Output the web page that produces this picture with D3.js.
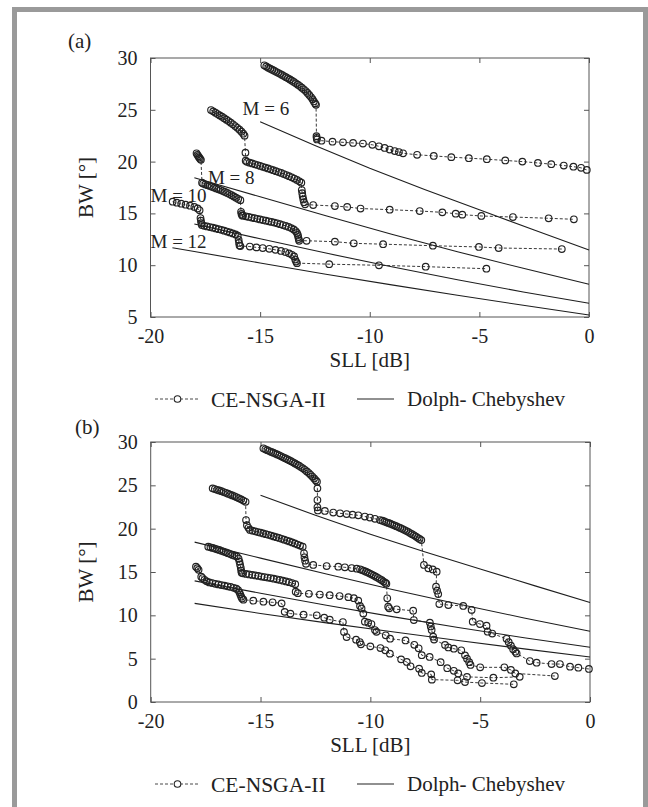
<!DOCTYPE html>
<html>
<head>
<meta charset="utf-8">
<script src="https://cdn.jsdelivr.net/npm/d3@7/dist/d3.min.js"></script>
<style>
  body { margin: 0; background: #fff; }
  svg text { font-family: "Liberation Serif", "Times New Roman", serif; fill: #222; }
</style>
</head>
<body>
<div id="chart"></div>
<script>
// ---- data ----
const xTicks = [-20, -15, -10, -5, 0];
const yTicksA = [5, 10, 15, 20, 25, 30];
const yTicksB = [0, 5, 10, 15, 20, 25, 30];
const mLabels = ['M = 6', 'M = 8', 'M = 10', 'M = 12'];
const mLabelAt = [[-15.8, 25.1], [-17.38, 18.5], [-20, 16.7], [-20, 12.35]];
const legendNames = ['CE-NSGA-II', 'Dolph- Chebyshev'];

// Dolph-Chebyshev curves [SLL, BW]
const dcM6 = [[-15, 23.85], [-12.5, 21.55], [-10, 19.35], [-7.5, 17.3], [-5, 15.35], [-2.5, 13.4], [0, 11.47]];
const dcM8 = [[-18, 18.45], [-15, 16.6], [-12, 14.77], [-9, 12.98], [-6, 11.3], [-3, 9.7], [0, 8.16]];
const dcM10 = [[-18, 13.98], [-15, 12.55], [-12, 11.17], [-9, 9.85], [-6, 8.6], [-3, 7.42], [0, 6.32]];
const dcM12 = [[-19, 11.69], [-18, 11.32], [-15, 10.22], [-12, 9.13], [-9, 8.1], [-6, 7.1], [-3, 6.13], [0, 5.19]];
const dcM12b = [[-18, 11.38], [-15, 10.22], [-12, 9.13], [-9, 8.1], [-6, 7.1], [-3, 6.13], [0, 5.19]];

// CE-NSGA-II fronts, panel (a)
const ceM6a = [[-14.81,29.30],[-14.72,29.18],[-14.63,29.07],[-14.54,28.97],[-14.45,28.87],[-14.36,28.77],[-14.27,28.67],[-14.18,28.57],[-14.09,28.47],[-14.00,28.37],[-13.91,28.26],[-13.82,28.15],[-13.73,28.04],[-13.64,27.93],[-13.55,27.81],[-13.46,27.69],[-13.37,27.56],[-13.28,27.43],[-13.19,27.29],[-13.10,27.14],[-13.01,26.98],[-12.92,26.81],[-12.84,26.63],[-12.76,26.44],[-12.68,26.23],[-12.61,26.02],[-12.55,25.81],[-12.49,25.62],[-12.45,25.48],
  [-12.43,22.45],[-12.42,22.28],[-12.41,22.14],
  [-12.20,22.02],[-11.70,21.92],[-11.22,21.86],[-10.76,21.80],[-10.31,21.74],[-9.88,21.62],[-9.58,21.48],[-9.32,21.32],[-9.09,21.16],[-8.86,21.02],[-8.67,20.92],[-8.48,20.80],
  [-7.84,20.66],[-7.08,20.55],[-6.28,20.43],[-5.48,20.33],[-4.66,20.23],[-3.82,20.11],[-3.04,20.00],[-2.33,19.87],[-1.72,19.75],[-1.15,19.62],[-0.71,19.51],[-0.36,19.40],[-0.10,19.20]];
const ceM8a = [[-17.24,24.98],[-17.14,24.85],[-17.04,24.72],[-16.94,24.59],[-16.84,24.46],[-16.74,24.33],[-16.64,24.19],[-16.54,24.05],[-16.44,23.91],[-16.34,23.76],[-16.24,23.60],[-16.14,23.43],[-16.04,23.26],[-15.94,23.08],[-15.85,22.89],[-15.77,22.69],[-15.71,22.50],
  [-15.67,20.86],
  [-15.66,20.09],[-15.60,19.98],[-15.48,19.90],[-15.36,19.82],[-15.24,19.74],[-15.12,19.66],[-15.00,19.58],[-14.88,19.50],[-14.76,19.42],[-14.64,19.34],[-14.52,19.26],[-14.40,19.17],[-14.28,19.08],[-14.16,18.99],[-14.04,18.90],[-13.92,18.80],[-13.80,18.70],[-13.68,18.59],[-13.56,18.48],[-13.44,18.36],[-13.32,18.23],[-13.21,18.10],[-13.12,17.96],
  [-13.10,17.25],[-13.08,16.95],[-13.06,16.65],[-13.03,16.35],[-13.00,16.08],[-12.95,15.88],
  [-12.58,15.81],[-11.59,15.71],[-11.03,15.62],[-10.42,15.47],[-9.09,15.36],[-7.72,15.23],[-6.69,15.10],[-6.08,14.97],[-5.78,14.88],[-4.91,14.75],[-3.47,14.65],[-1.84,14.53],[-0.69,14.43]];
const ceM10a = [[-17.90,20.80],[-17.86,20.65],[-17.82,20.52],[-17.78,20.40],[-17.74,20.28],[-17.70,20.17],
  [-17.65,17.96],[-17.60,17.88],[-17.50,17.80],[-17.40,17.72],[-17.30,17.65],[-17.20,17.57],[-17.10,17.49],[-17.00,17.41],[-16.90,17.33],[-16.80,17.25],[-16.70,17.16],[-16.60,17.07],[-16.50,16.97],[-16.40,16.87],[-16.30,16.76],[-16.20,16.64],[-16.10,16.52],[-16.00,16.40],[-15.90,16.28],
  [-15.87,15.15],[-15.85,14.95],[-15.82,14.80],
  [-15.78,14.78],[-15.65,14.72],[-15.52,14.66],[-15.39,14.60],[-15.26,14.54],[-15.13,14.48],[-15.00,14.42],[-14.87,14.36],[-14.74,14.30],[-14.61,14.24],[-14.48,14.18],[-14.35,14.11],[-14.22,14.04],[-14.09,13.96],[-13.96,13.88],[-13.83,13.79],[-13.70,13.69],[-13.58,13.58],[-13.47,13.45],[-13.38,13.30],[-13.32,13.12],[-13.28,12.92],[-13.26,12.72],[-13.24,12.52],[-13.22,12.36],
  [-12.88,12.36],[-11.59,12.27],[-10.73,12.11],[-9.39,12.03],[-7.12,11.88],[-5.02,11.76],[-4.12,11.66],[-1.24,11.56]];
const ceM12a = [[-18.99,16.13],[-18.80,16.03],[-18.60,15.94],[-18.40,15.84],[-18.20,15.74],[-18.00,15.62],[-17.85,15.48],[-17.76,15.30],
  [-17.72,14.55],[-17.70,14.30],[-17.68,14.05],
  [-17.66,13.88],[-17.55,13.80],[-17.42,13.74],[-17.29,13.68],[-17.16,13.62],[-17.03,13.55],[-16.90,13.48],[-16.77,13.41],[-16.64,13.33],[-16.51,13.25],[-16.38,13.16],[-16.25,13.07],[-16.12,12.97],[-16.02,12.85],
  [-15.98,12.45],[-15.96,12.15],[-15.94,11.90],
  [-15.90,11.85],[-15.47,11.80],[-15.17,11.72],[-14.88,11.66],[-14.58,11.58],[-14.30,11.48],[-14.05,11.38],[-13.85,11.27],[-13.68,11.14],[-13.55,11.00],[-13.45,10.85],
  [-13.40,10.55],[-13.36,10.35],[-13.32,10.20],
  [-11.85,10.10],[-9.58,9.99],[-7.45,9.86],[-4.68,9.66]];

// CE-NSGA-II fronts, panel (b)
const ceM6b = [[-14.87,29.27],[-14.78,29.16],[-14.69,29.06],[-14.60,28.96],[-14.51,28.86],[-14.42,28.76],[-14.33,28.66],[-14.24,28.56],[-14.15,28.46],[-14.06,28.35],[-13.97,28.24],[-13.88,28.13],[-13.79,28.02],[-13.70,27.90],[-13.61,27.78],[-13.52,27.66],[-13.43,27.53],[-13.34,27.40],[-13.25,27.26],[-13.16,27.11],[-13.07,26.96],[-12.98,26.79],[-12.89,26.61],[-12.80,26.42],[-12.72,26.22],[-12.64,26.01],[-12.56,25.80],[-12.49,25.60],[-12.43,25.42],
  [-12.41,24.65],[-12.41,23.30],[-12.41,22.46],[-12.39,22.10],
  [-12.07,22.04],[-11.69,21.86],[-11.38,21.77],[-11.08,21.69],[-10.81,21.61],[-10.55,21.54],[-10.25,21.40],[-10.02,21.28],[-9.79,21.14],[-9.56,21.00],
  [-9.45,20.92],[-9.36,20.83],[-9.27,20.74],[-9.18,20.66],[-9.09,20.57],[-9.00,20.48],[-8.91,20.39],[-8.82,20.29],[-8.73,20.19],[-8.64,20.09],[-8.55,19.98],[-8.46,19.87],[-8.37,19.75],[-8.28,19.63],[-8.19,19.50],[-8.10,19.37],[-8.01,19.23],[-7.92,19.09],[-7.84,18.95],[-7.76,18.81],[-7.68,18.68],
  [-7.56,15.81],[-7.36,15.42],[-7.16,15.30],[-6.98,15.04],[-7.01,13.30],[-6.96,12.85],[-6.91,12.46],
  [-6.86,11.30],[-6.45,11.19],[-5.77,11.08],[-5.39,10.62],[-5.34,9.27],[-5.01,9.00],[-4.71,8.80],[-4.66,8.11],[-4.45,7.90],[-3.80,7.29],[-3.70,6.90],[-3.60,6.50],[-3.50,6.10],[-3.40,5.80],[-3.34,5.60],
  [-2.74,4.73],[-2.43,4.54],[-1.75,4.38],[-1.37,4.38],[-0.91,4.07],[-0.53,3.96],[-0.05,3.81]];
const ceM8b = [[-17.18,24.65],[-17.08,24.57],[-16.98,24.49],[-16.88,24.41],[-16.78,24.32],[-16.68,24.23],[-16.58,24.14],[-16.48,24.04],[-16.38,23.94],[-16.28,23.84],[-16.18,23.73],[-16.08,23.62],[-15.98,23.50],[-15.88,23.38],[-15.78,23.25],[-15.68,23.10],
  [-15.66,21.00],[-15.62,20.40],[-15.55,20.10],
  [-15.48,19.85],[-15.36,19.77],[-15.24,19.69],[-15.12,19.61],[-15.00,19.53],[-14.88,19.45],[-14.76,19.37],[-14.64,19.29],[-14.52,19.20],[-14.40,19.11],[-14.28,19.02],[-14.16,18.93],[-14.04,18.83],[-13.92,18.73],[-13.80,18.63],[-13.68,18.52],[-13.56,18.41],[-13.44,18.29],[-13.32,18.17],[-13.20,18.05],[-13.08,17.92],
  [-13.02,17.16],[-13.00,16.70],[-12.97,16.30],[-12.93,15.95],
  [-12.60,15.81],[-11.99,15.69],[-11.46,15.61],[-11.16,15.54],[-10.85,15.46],[-10.62,15.38],
  [-10.47,15.31],[-10.38,15.22],[-10.29,15.13],[-10.20,15.03],[-10.11,14.93],[-10.02,14.82],[-9.93,14.71],[-9.84,14.59],[-9.75,14.46],[-9.66,14.33],[-9.57,14.19],[-9.48,14.05],[-9.40,13.90],[-9.32,13.76],[-9.27,13.65],
  [-9.23,11.97],[-9.19,11.00],[-9.14,10.81],[-8.80,10.70],[-8.05,10.53],[-8.02,9.46],[-7.29,9.15],[-7.25,8.72],[-7.21,8.31],[-7.14,7.53],[-7.10,7.20],
  [-6.60,6.58],[-6.45,6.30],[-6.20,6.15],[-5.86,5.96],[-5.69,5.38],[-5.60,5.00],[-5.50,4.60],[-5.44,4.27],[-5.00,4.00],[-3.90,4.00],[-3.60,3.70],[-3.40,3.30],[-1.60,3.00]];
const ceM10b = [[-17.38,17.92],[-17.28,17.85],[-17.18,17.78],[-17.08,17.70],[-16.98,17.62],[-16.88,17.54],[-16.78,17.45],[-16.68,17.36],[-16.58,17.27],[-16.48,17.17],[-16.38,17.07],[-16.28,16.97],[-16.18,16.88],[-16.08,16.80],
  [-16.00,16.55],[-15.96,16.20],[-15.93,15.85],[-15.90,15.50],[-15.88,15.15],[-15.86,14.90],
  [-15.80,14.85],[-15.66,14.78],[-15.52,14.72],[-15.38,14.66],[-15.24,14.60],[-15.10,14.54],[-14.96,14.48],[-14.82,14.42],[-14.68,14.36],[-14.54,14.30],[-14.40,14.23],[-14.26,14.16],[-14.12,14.08],[-13.98,14.00],[-13.84,13.91],[-13.70,13.82],[-13.56,13.72],[-13.42,13.60],
  [-13.40,12.73],
  [-13.30,12.55],[-12.80,12.48],[-12.30,12.40],[-11.85,12.32],[-11.40,12.22],[-11.00,12.10],[-10.75,11.98],[-10.55,11.70],
  [-10.47,11.08],[-10.40,10.80],[-10.32,10.20],[-10.25,9.27],[-10.10,9.15],[-9.95,9.00],[-9.79,8.30],[-9.72,8.10],
  [-9.30,7.70],[-9.10,7.30],[-8.40,7.10],[-8.00,6.60],[-7.80,6.20],[-7.66,5.40],[-7.30,5.20],[-6.80,4.60],[-6.50,3.90],[-6.20,3.60],[-6.00,3.30],[-5.60,2.90],[-4.40,2.80],[-3.20,2.90]];
const ceM12b = [[-17.94,15.62],[-17.88,15.45],[-17.82,15.25],
  [-17.70,14.46],
  [-17.64,14.30],[-17.55,14.10],[-17.45,13.92],[-17.33,13.80],[-17.20,13.72],[-17.06,13.64],[-16.92,13.57],[-16.78,13.50],[-16.64,13.43],[-16.50,13.35],[-16.36,13.27],[-16.22,13.18],[-16.10,13.08],[-16.02,12.92],
  [-15.96,12.65],[-15.92,12.40],[-15.88,12.15],[-15.84,11.95],[-15.78,11.80],
  [-15.33,11.69],[-14.87,11.57],[-14.45,11.50],[-14.04,11.38],
  [-13.90,10.40],[-13.64,10.20],[-13.04,10.08],[-12.44,10.00],[-12.10,9.73],[-11.85,9.50],[-11.25,9.23],
  [-11.20,8.08],[-11.08,7.50],[-10.65,7.19],[-10.48,6.92],[-10.43,6.65],[-10.00,6.42],[-9.54,6.23],[-9.32,5.96],[-9.11,5.58],[-8.60,4.92],[-8.34,4.62],[-8.17,4.12],[-7.78,3.85],[-7.66,3.35],[-7.23,3.19],[-7.20,2.58],[-6.03,2.50],[-5.69,2.30],[-4.92,2.19],[-3.47,2.04]];

// ---- drawing ----
const W = 648, H = 807;
const svg = d3.select('#chart').append('svg').attr('width', W).attr('height', H);

// grey page frame
svg.append('rect')
  .attr('x', 14.5).attr('y', 9.5).attr('width', 631).attr('height', 830)
  .attr('fill', 'none').attr('stroke', '#9a9a9a').attr('stroke-width', 5);

function drawPanel(p) {
  const g = svg.append('g');
  const x = d3.scaleLinear().domain([-20, 0]).range([p.left, p.right]);
  const y = d3.scaleLinear().domain(p.yDomain).range([p.bottom, p.top]);

  // axes, ticks pointing inward (matlab style box)
  const fmt = d3.format('d');
  const bottom = g.append('g').attr('transform', `translate(0,${p.bottom})`)
    .call(d3.axisBottom(x).tickValues(xTicks).tickSizeInner(-5).tickSizeOuter(0).tickPadding(12).tickFormat(fmt));
  const top = g.append('g').attr('transform', `translate(0,${p.top})`)
    .call(d3.axisTop(x).tickValues(xTicks).tickSizeInner(-5).tickSizeOuter(0).tickFormat(''));
  const left = g.append('g').attr('transform', `translate(${p.left},0)`)
    .call(d3.axisLeft(y).tickValues(p.yTicks).tickSizeInner(-5).tickSizeOuter(0).tickPadding(13).tickFormat(fmt));
  const right = g.append('g').attr('transform', `translate(${p.right},0)`)
    .call(d3.axisRight(y).tickValues(p.yTicks).tickSizeInner(-5).tickSizeOuter(0).tickFormat(''));
  [bottom, top, left, right].forEach(a => {
    a.select('.domain').remove();
    a.selectAll('line').attr('stroke', '#555');
    a.selectAll('text').style('font-size', '20px').attr('fill', '#222');
  });
  bottom.selectAll('text').text(d => d < 0 ? '-' + (-d) : d);

  g.append('rect')
    .attr('x', p.left).attr('y', p.top)
    .attr('width', p.right - p.left).attr('height', p.bottom - p.top)
    .attr('fill', 'none').attr('stroke', '#555').attr('stroke-width', 1);

  const line = d3.line().x(d => x(d[0])).y(d => y(d[1]));

  // Dolph-Chebyshev (solid)
  g.selectAll('path.dc').data(p.dc).join('path')
    .attr('class', 'dc')
    .attr('d', line)
    .attr('fill', 'none').attr('stroke', '#1e1e1e').attr('stroke-width', 1.1);

  // CE-NSGA-II (dashed line + open circles)
  p.ce.forEach(s => {
    g.append('path').attr('d', line(s))
      .attr('fill', 'none').attr('stroke', '#222').attr('stroke-width', 0.9)
      .attr('stroke-dasharray', '3,2');
    g.append('g').selectAll('circle').data(s).join('circle')
      .attr('cx', d => x(d[0])).attr('cy', d => y(d[1])).attr('r', 3.3)
      .attr('fill', 'none').attr('stroke', '#222').attr('stroke-width', 1.15);
  });

  if (p.labels) {
    g.selectAll('text.mlab').data(mLabels).join('text')
      .attr('class', 'mlab')
      .attr('x', (d, i) => x(mLabelAt[i][0])).attr('y', (d, i) => y(mLabelAt[i][1]))
      .attr('dy', '0.35em')
      .style('font-size', '19px')
      .text(d => d);
  }

  // panel letter
  g.append('text').attr('x', p.tagX).attr('y', p.tagY).style('font-size', '21px').text(p.tag);

  // axis titles
  g.append('text')
    .attr('transform', `translate(86,${(p.top + p.bottom) / 2}) rotate(-90)`)
    .attr('text-anchor', 'middle').attr('dy', '0.35em')
    .style('font-size', '21px').text('BW [°]');
  g.append('text')
    .attr('x', (p.left + p.right) / 2).attr('y', p.bottom + 50)
    .attr('text-anchor', 'middle')
    .style('font-size', '21px').text('SLL [dB]');

  // legend
  const ly = p.bottom + 82;
  const lg = g.append('g');
  lg.append('line').attr('x1', 155).attr('x2', 200).attr('y1', ly).attr('y2', ly)
    .attr('stroke', '#333').attr('stroke-width', 0.9).attr('stroke-dasharray', '3,2');
  lg.append('circle').attr('cx', 177.5).attr('cy', ly).attr('r', 3.3)
    .attr('fill', '#fff').attr('stroke', '#222').attr('stroke-width', 1.1);
  lg.append('text').attr('x', 211).attr('y', ly).attr('dy', '0.35em').style('font-size', '21.5px').text(legendNames[0]);
  lg.append('line').attr('x1', 357).attr('x2', 394).attr('y1', ly).attr('y2', ly)
    .attr('stroke', '#222').attr('stroke-width', 1.2);
  lg.append('text').attr('x', 407).attr('y', ly).attr('dy', '0.35em').style('font-size', '21px').text(legendNames[1]);
}

drawPanel({
  left: 150.5, right: 589, top: 58, bottom: 317,
  yDomain: [5, 30], yTicks: yTicksA,
  dc: [dcM6, dcM8, dcM10, dcM12],
  ce: [ceM6a, ceM8a, ceM10a, ceM12a],
  labels: true, tag: '(a)', tagX: 68, tagY: 48
});
drawPanel({
  left: 150.7, right: 590, top: 442, bottom: 702,
  yDomain: [0, 30], yTicks: yTicksB,
  dc: [dcM6, dcM8, dcM10, dcM12b],
  ce: [ceM6b, ceM8b, ceM10b, ceM12b],
  labels: false, tag: '(b)', tagX: 75, tagY: 434
});
</script>
</body>
</html>
